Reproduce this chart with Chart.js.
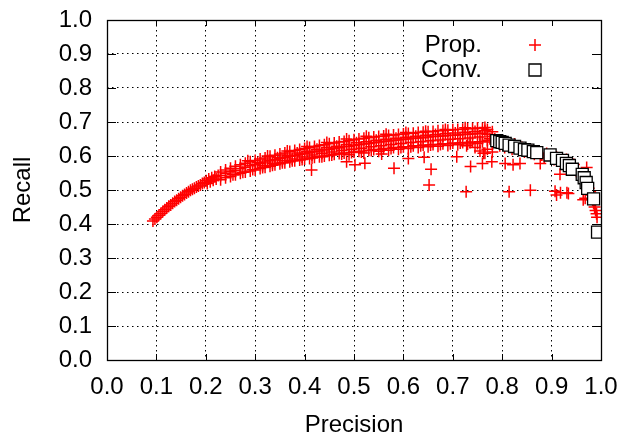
<!DOCTYPE html>
<html><head><meta charset="utf-8">
<script src="https://cdn.jsdelivr.net/npm/chart.js@4"></script>
<style>html,body{margin:0;padding:0;background:#fff;}canvas{display:block;}</style>
</head><body>
<canvas id="c" width="617" height="440"></canvas>
<script>
const seriesNames = ['Prop.', 'Conv.'];
const axisTitles = { x: 'Precision', y: 'Recall' };
const tickValues = [0, 0.1, 0.2, 0.3, 0.4, 0.5, 0.6, 0.7, 0.8, 0.9, 1.0];

// Prop.: rising start of the curve [precision, recall]
const propRise = [
  [0.093,0.409],[0.097,0.415],[0.101,0.420],[0.105,0.426],[0.109,0.431],[0.113,0.437],
  [0.117,0.442],[0.121,0.447],[0.125,0.452],[0.129,0.456],[0.133,0.461],[0.137,0.466],
  [0.141,0.470],[0.145,0.474],[0.149,0.479],[0.153,0.483],[0.157,0.487],[0.161,0.491],
  [0.165,0.495],[0.169,0.499],[0.173,0.502],[0.177,0.505],[0.181,0.509],[0.185,0.512],
  [0.189,0.515],[0.193,0.519],[0.197,0.522],[0.201,0.527],[0.203,0.519],[0.206,0.532],
  [0.209,0.524],[0.212,0.536],[0.215,0.529],[0.218,0.540],[0.221,0.532],[0.225,0.543]
];
// Prop.: dense band, rows of [precision, recall low, recall mid, recall high]
const propBand = [
  [0.23,0.530,0.543,0.553],[0.24,0.536,0.549,0.559],[0.25,0.540,0.554,0.564],
  [0.26,0.545,0.558,0.570],[0.27,0.549,0.563,0.574],[0.28,0.553,0.567,0.579],
  [0.29,0.556,0.571,0.583],[0.30,0.559,0.575,0.587],[0.31,0.563,0.578,0.591],
  [0.32,0.567,0.582,0.594],[0.33,0.570,0.586,0.599],[0.34,0.574,0.589,0.602],
  [0.35,0.577,0.593,0.606],[0.36,0.580,0.596,0.609],[0.37,0.583,0.599,0.613],
  [0.38,0.586,0.602,0.616],[0.39,0.588,0.605,0.619],[0.40,0.591,0.608,0.622],
  [0.41,0.593,0.610,0.625],[0.42,0.596,0.613,0.628],[0.43,0.598,0.615,0.631],
  [0.44,0.600,0.618,0.633],[0.45,0.602,0.620,0.636],[0.46,0.605,0.622,0.638],
  [0.47,0.607,0.624,0.641],[0.48,0.609,0.627,0.643],[0.49,0.604,0.629,0.645],
  [0.50,0.612,0.631,0.648],[0.51,0.614,0.633,0.650],[0.52,0.609,0.635,0.652],
  [0.53,0.617,0.637,0.654],[0.54,0.619,0.639,0.656],[0.55,0.614,0.641,0.657],
  [0.56,0.622,0.643,0.659],[0.57,0.617,0.644,0.660],[0.58,0.625,0.646,0.662],
  [0.59,0.620,0.647,0.663],[0.60,0.627,0.649,0.665],[0.61,0.622,0.650,0.666],
  [0.62,0.630,0.652,0.667],[0.63,0.625,0.653,0.669],[0.64,0.632,0.654,0.670],
  [0.65,0.627,0.656,0.671],[0.66,0.634,0.657,0.672],[0.67,0.629,0.658,0.674],
  [0.68,0.636,0.659,0.675],[0.69,0.631,0.660,0.676],[0.70,0.638,0.661,0.677],
  [0.71,0.633,0.662,0.678],[0.72,0.640,0.663,0.679],[0.73,0.635,0.664,0.680],
  [0.74,0.641,0.665,0.681],[0.75,0.637,0.666,0.682],[0.76,0.642,0.667,0.681],
  [0.77,0.646,0.664,0.678],[0.78,0.641,0.657,0.671]
];
// Prop.: extra points between band columns [precision, recall]
const propFill = [
  [0.305,0.581],[0.315,0.571],[0.325,0.588],[0.335,0.579],[0.345,0.595],[0.355,0.586],
  [0.365,0.602],[0.375,0.591],[0.385,0.609],[0.395,0.597],[0.405,0.614],[0.415,0.603],
  [0.425,0.620],[0.435,0.608],[0.445,0.625],[0.455,0.612],[0.465,0.629],[0.475,0.616],
  [0.485,0.634],[0.495,0.620],[0.505,0.639],[0.515,0.623],[0.525,0.642],[0.535,0.627],
  [0.545,0.646],[0.555,0.630],[0.565,0.649],[0.575,0.634],[0.585,0.652],[0.595,0.637],
  [0.605,0.655],[0.615,0.640],[0.625,0.658],[0.635,0.642],[0.645,0.661],[0.655,0.645],
  [0.665,0.663],[0.675,0.647],[0.685,0.666],[0.695,0.649],[0.705,0.668],[0.715,0.651],
  [0.725,0.670],[0.735,0.653],[0.745,0.672],[0.755,0.656],[0.765,0.674],[0.775,0.651],
  [0.728,0.630],[0.745,0.625],[0.755,0.615],[0.762,0.608],[0.770,0.620],[0.780,0.612]
];
// Prop.: lower and upper edge of the band
const propEdges = [
  [0.255,0.545],[0.275,0.552],[0.295,0.560],[0.315,0.566],[0.335,0.573],[0.355,0.580],
  [0.375,0.586],[0.395,0.590],[0.415,0.594],[0.435,0.598],[0.455,0.603],[0.475,0.606],
  [0.495,0.610],[0.515,0.612],[0.535,0.616],[0.555,0.619],[0.575,0.622],[0.595,0.625],
  [0.615,0.627],[0.635,0.630],[0.655,0.632],[0.675,0.634],[0.695,0.636],[0.715,0.638],
  [0.735,0.640],[0.755,0.642],
  [0.285,0.586],[0.325,0.600],[0.365,0.615],[0.405,0.628],[0.445,0.640],[0.485,0.650],
  [0.525,0.658],[0.565,0.664],[0.605,0.669],[0.645,0.673],[0.685,0.678],[0.725,0.683],
  [0.765,0.684]
];
// Prop.: falling tail near the Conv. points
const propTail = [
  [0.785,0.650],[0.790,0.640],[0.795,0.630],[0.800,0.645],[0.805,0.625],[0.810,0.638],
  [0.815,0.630],[0.820,0.620],[0.825,0.635],[0.830,0.627],[0.840,0.625],[0.845,0.612],
  [0.850,0.620],[0.860,0.618],[0.865,0.605],[0.870,0.612],[0.880,0.603],[0.885,0.595],
  [0.890,0.607],[0.900,0.598],[0.905,0.590],[0.910,0.597],[0.920,0.585],[0.925,0.578],
  [0.930,0.590],[0.935,0.570],[0.940,0.565],[0.945,0.575],[0.950,0.555],[0.955,0.548],
  [0.960,0.545],[0.965,0.537],[0.968,0.528],[0.972,0.515],[0.975,0.505],[0.978,0.495],
  [0.980,0.485],[0.983,0.470],[0.985,0.460],[0.987,0.450],[0.989,0.440],[0.991,0.430],
  [0.992,0.420]
];
// Prop.: scattered points below the band
const propOutliers = [
  [0.414,0.559],[0.485,0.583],[0.502,0.574],[0.522,0.579],[0.556,0.606],[0.581,0.564],
  [0.610,0.593],[0.642,0.596],[0.656,0.561],[0.652,0.515],[0.708,0.598],[0.736,0.569],
  [0.727,0.495],[0.760,0.578],[0.779,0.583],[0.765,0.608],[0.806,0.578],[0.822,0.574],
  [0.836,0.578],[0.877,0.578],[0.814,0.495],[0.857,0.499],[0.907,0.496],[0.910,0.485],
  [0.918,0.492],[0.931,0.492],[0.917,0.546],[0.971,0.566],[0.964,0.471],[0.968,0.476],
  [0.934,0.490],[0.880,0.603]
];
// Conv.
const convPoints = [
  [0.789,0.645],[0.795,0.642],[0.800,0.640],[0.806,0.637],[0.814,0.632],[0.825,0.628],
  [0.836,0.623],[0.845,0.619],[0.852,0.617],[0.863,0.613],[0.870,0.610],[0.897,0.603],
  [0.910,0.593],[0.922,0.587],[0.930,0.578],[0.936,0.572],[0.942,0.561],[0.962,0.546],
  [0.966,0.536],[0.970,0.522],[0.973,0.505],[0.985,0.474],[0.993,0.376]
];

const toXY = p => ({ x: p[0], y: p[1] });
const propData = [];
propRise.forEach(p => propData.push(toXY(p)));
propBand.forEach(r => { for (let i = 1; i < r.length; i++) propData.push({ x: r[0], y: r[i] }); });
propFill.forEach(p => propData.push(toXY(p)));
propEdges.forEach(p => propData.push(toXY(p)));
propTail.forEach(p => propData.push(toXY(p)));
propOutliers.forEach(p => propData.push(toXY(p)));
const convData = convPoints.map(toXY);

const FONT = 'Liberation Sans, Arial, sans-serif';
const FSIZE = 24;
const RED = '#ff0000';

const framePlugin = {
  id: 'frame',
  beforeDatasetsDraw(chart) {
    const { ctx, chartArea: a, scales } = chart;
    const x0 = scales.x.getPixelForValue(0.6) + 1.5;
    const y1 = scales.y.getPixelForValue(0.8) - 1.5;
    ctx.save();
    ctx.fillStyle = '#fff';
    ctx.fillRect(x0, a.top, a.right - x0, y1 - a.top);
    ctx.restore();
  },
  afterDatasetsDraw(chart) {
    const { ctx, chartArea: a, scales } = chart;
    ctx.save();
    ctx.strokeStyle = '#000';
    ctx.lineWidth = 1;
    ctx.beginPath();
    tickValues.forEach(v => {
      const px = Math.round(scales.x.getPixelForValue(v)) + 0.5;
      ctx.moveTo(px, a.bottom); ctx.lineTo(px, a.bottom - 6);
      ctx.moveTo(px, a.top); ctx.lineTo(px, a.top + 6);
      const py = Math.round(scales.y.getPixelForValue(v)) + 0.5;
      ctx.moveTo(a.left, py); ctx.lineTo(a.left + 9, py);
      ctx.moveTo(a.right, py); ctx.lineTo(a.right - 9, py);
    });
    ctx.stroke();
    ctx.lineWidth = 1.3;
    ctx.strokeRect(Math.round(a.left) + 0.5, Math.round(a.top) + 0.5,
      Math.round(a.right - a.left), Math.round(a.bottom - a.top));
    ctx.restore();
  },
  afterDraw(chart) {
    const { ctx, chartArea: a } = chart;
    const textX = a.right - 119;
    const markX = a.right - 66;
    chart.data.datasets.forEach((ds, i) => {
      const y = a.top + 25 + i * 25;
      ctx.save();
      ctx.font = FSIZE + 'px ' + FONT;
      ctx.fillStyle = '#000';
      ctx.textAlign = 'right';
      ctx.textBaseline = 'middle';
      ctx.fillText(ds.label, textX, y);
      ctx.restore();
      ctx.save();
      if (i === 0) {
        ctx.strokeStyle = RED;
        ctx.lineWidth = 1.5;
        ctx.beginPath();
        ctx.moveTo(markX - 6, y); ctx.lineTo(markX + 6, y);
        ctx.moveTo(markX, y - 6); ctx.lineTo(markX, y + 6);
        ctx.stroke();
      } else {
        ctx.fillStyle = '#fff';
        ctx.strokeStyle = '#000';
        ctx.lineWidth = 1.3;
        ctx.beginPath();
        ctx.rect(markX - 6, y - 6, 12, 12);
        ctx.fill();
        ctx.stroke();
      }
      ctx.restore();
    });
  }
};

new Chart(document.getElementById('c'), {
  type: 'scatter',
  data: {
    datasets: [
      { label: seriesNames[0], data: propData, order: 2,
        pointStyle: 'cross', pointRadius: 6, pointHoverRadius: 6,
        borderColor: RED, backgroundColor: RED, pointBorderWidth: 1.5 },
      { label: seriesNames[1], data: convData, order: 1,
        pointStyle: 'rect', pointRadius: 8.5, pointHoverRadius: 8.5,
        borderColor: '#000', backgroundColor: '#fff', pointBorderWidth: 1.3 }
    ]
  },
  options: {
    responsive: false,
    animation: false,
    events: [],
    layout: { padding: { top: 20, right: 16, bottom: 0, left: 0 } },
    plugins: { legend: { display: false }, tooltip: { enabled: false } },
    scales: {
      x: {
        type: 'linear', min: 0, max: 1,
        afterBuildTicks: s => { s.ticks = tickValues.map(v => ({ value: v })); },
        afterFit: s => { s.height = 80; s.paddingLeft = 0; s.paddingRight = 0; },
        ticks: { color: '#000', font: { family: FONT, size: FSIZE }, padding: 13,
                 maxRotation: 0, autoSkip: false, callback: v => v.toFixed(1) },
        grid: { color: '#000', lineWidth: 1, drawTicks: false },
        border: { display: false, dash: [1.5, 3.5] },
        title: { display: true, text: axisTitles.x, color: '#000',
                 font: { family: FONT, size: FSIZE }, padding: { top: 0, bottom: 0 } }
      },
      y: {
        type: 'linear', min: 0, max: 1,
        afterBuildTicks: s => { s.ticks = tickValues.map(v => ({ value: v })); },
        afterFit: s => { s.width = 107; s.paddingTop = 0; s.paddingBottom = 0; },
        ticks: { color: '#000', font: { family: FONT, size: FSIZE }, padding: 15,
                 autoSkip: false, callback: v => v.toFixed(1) },
        grid: { color: '#000', lineWidth: 1, drawTicks: false },
        border: { display: false, dash: [1.5, 3.5] },
        title: { display: true, text: axisTitles.y, color: '#000',
                 font: { family: FONT, size: FSIZE }, padding: { top: 9, bottom: 0 } }
      }
    }
  },
  plugins: [framePlugin]
});
</script>
</body></html>
